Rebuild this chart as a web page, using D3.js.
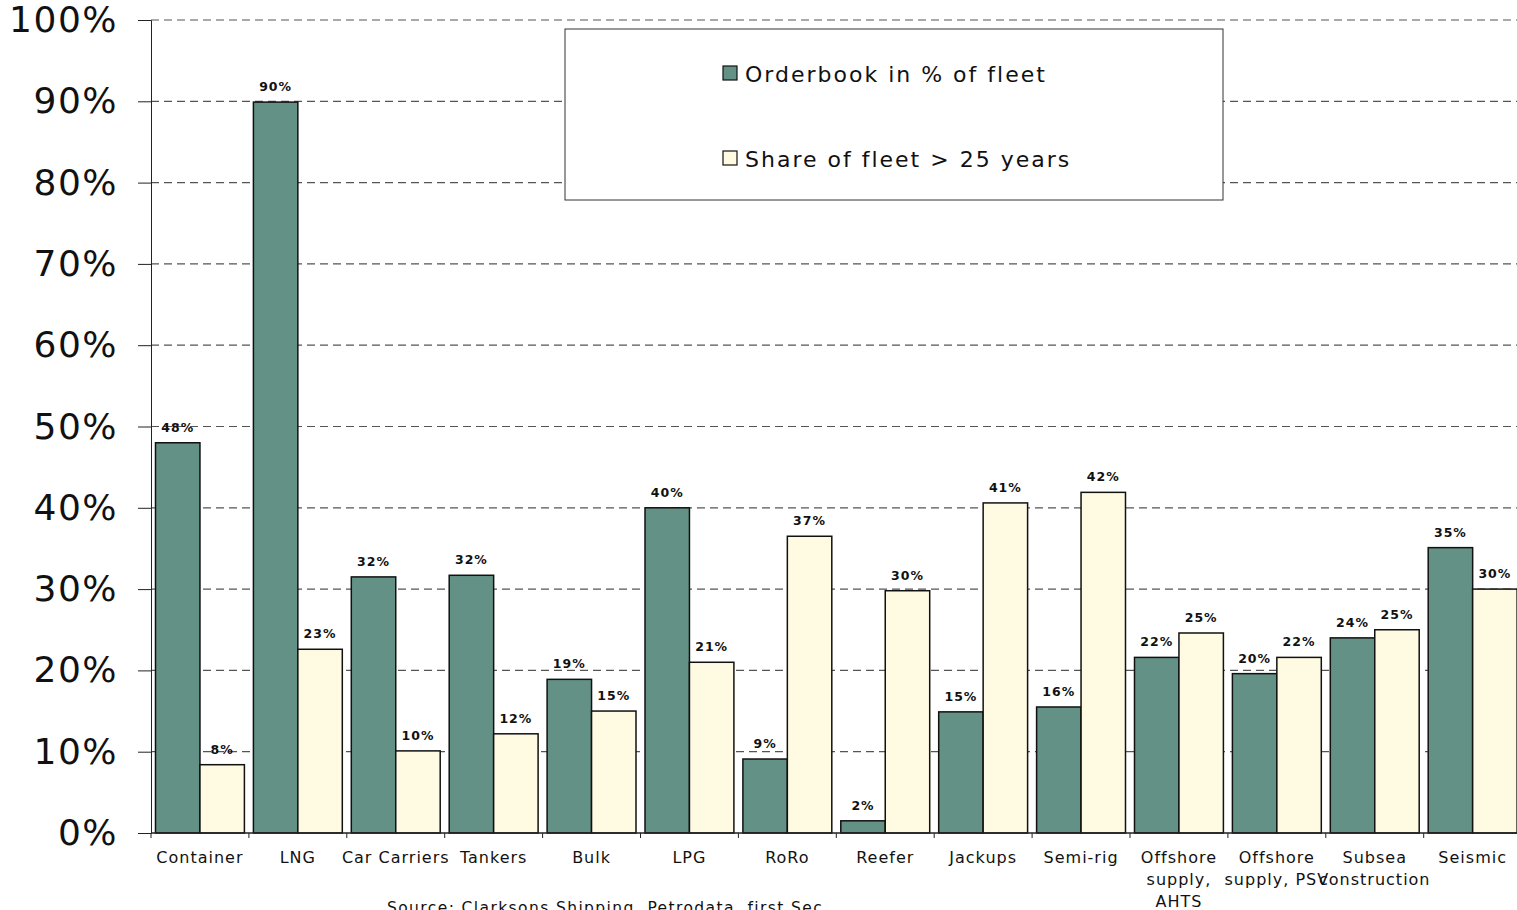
<!DOCTYPE html>
<html>
<head>
<meta charset="utf-8">
<script src="https://cdn.jsdelivr.net/npm/d3@7"></script>
<style>
  body { margin: 0; background: #fff; }
  svg { display: block; font-family: "DejaVu Sans", Verdana, sans-serif; }
</style>
</head>
<body>
<svg id="chart" width="1517" height="910"></svg>
<script>
// categories (multi-line labels split with |)
const categories = ['Container', 'LNG', 'Car Carriers', 'Tankers', 'Bulk', 'LPG', 'RoRo', 'Reefer',
  'Jackups', 'Semi-rig', 'Offshore|supply,|AHTS', 'Offshore|supply, PSV', 'Subsea|construction', 'Seismic']

// orderbook in % of fleet
const orderbook = [48.0, 89.9, 31.5, 31.7, 18.9, 40.0, 9.1, 1.5, 14.9, 15.5, 21.6, 19.6, 24.0, 35.1]
// share of fleet older than 25 years
const oldShare = [8.4, 22.6, 10.1, 12.2, 15.0, 21.0, 36.5, 29.8, 40.6, 41.9, 24.6, 21.6, 25.0, 30.0]

const seriesNames = ['Orderbook in % of fleet', 'Share of fleet > 25 years']
const seriesColors = ['#639185', '#FFFBE3']
const yTicks = [0, 10, 20, 30, 40, 50, 60, 70, 80, 90, 100]
const sourceNote = 'Source: Clarksons Shipping, Petrodata, first Sec'

const plotLeft = 151, plotTop = 20, plotBottom = 833
const step = 97.9

let svg = d3.select('#chart')

let x = d3.scaleBand()
    .domain(d3.range(categories.length))
    .range([plotLeft, plotLeft + step * categories.length])
    .paddingInner(0).paddingOuter(0)

let xInner = d3.scaleBand()
    .domain([0, 1])
    .range([4.5, step - 4.5])

let y = d3.scaleLinear().domain([0, 100]).range([plotBottom, plotTop])

// dashed gridlines
svg.append('g')
    .selectAll('line')
    .data(yTicks.filter(d => d > 0))
    .enter()
    .append('line')
    .attr('x1', plotLeft).attr('x2', 1517)
    .attr('y1', d => y(d)).attr('y2', d => y(d))
    .attr('stroke', '#555')
    .attr('stroke-width', 1.2)
    .attr('stroke-dasharray', '8,5')

// y axis
let yAxis = svg.append('g')
    .attr('transform', `translate(${plotLeft},0)`)
    .call(d3.axisLeft(y).tickValues(yTicks).tickSize(13).tickPadding(20).tickFormat(d => d + '%'))
yAxis.select('.domain').attr('stroke', '#222')
yAxis.selectAll('.tick line').attr('stroke', '#222')
yAxis.selectAll('text')
    .attr('font-size', 36)
    .attr('letter-spacing', 1.5)
    .attr('fill', '#111')
    .attr('font-family', '"DejaVu Sans", Verdana, sans-serif')

// bars
let rows = categories.map((c, i) => ({ i: i, vals: [orderbook[i], oldShare[i]] }))

let groups = svg.append('g')
    .selectAll('g')
    .data(rows)
    .enter()
    .append('g')
    .attr('transform', d => `translate(${x(d.i)},0)`)

groups.selectAll('rect')
    .data(d => d.vals.map((v, s) => ({ v: v, s: s })))
    .enter()
    .append('rect')
    .attr('x', d => xInner(d.s))
    .attr('width', xInner.bandwidth())
    .attr('y', d => y(d.v))
    .attr('height', d => y(0) - y(d.v))
    .attr('fill', d => seriesColors[d.s])
    .attr('stroke', '#111')
    .attr('stroke-width', 1.5)

groups.selectAll('text')
    .data(d => d.vals.map((v, s) => ({ v: v, s: s })))
    .enter()
    .append('text')
    .attr('x', d => xInner(d.s) + xInner.bandwidth() / 2)
    .attr('y', d => y(d.v) - 11)
    .attr('text-anchor', 'middle')
    .attr('font-size', 12.5)
    .attr('font-weight', 'bold')
    .attr('letter-spacing', 1)
    .attr('fill', '#111')
    .text(d => Math.round(d.v) + '%')

// x axis line and ticks
svg.append('line')
    .attr('x1', plotLeft).attr('x2', 1517)
    .attr('y1', plotBottom).attr('y2', plotBottom)
    .attr('stroke', '#222').attr('stroke-width', 1.5)

svg.append('g')
    .selectAll('line')
    .data(d3.range(categories.length))
    .enter()
    .append('line')
    .attr('x1', d => x(d)).attr('x2', d => x(d))
    .attr('y1', plotBottom).attr('y2', plotBottom + 5)
    .attr('stroke', '#222')

// category labels
let labels = svg.append('g')
    .selectAll('text')
    .data(categories)
    .enter()
    .append('text')
    .attr('x', (d, i) => x(i) + step / 2)
    .attr('y', 863)
    .attr('text-anchor', 'middle')
    .attr('font-size', 16)
    .attr('letter-spacing', 1)
    .attr('fill', '#111')

labels.selectAll('tspan')
    .data(d => d.split('|'))
    .enter()
    .append('tspan')
    .attr('x', function () { return d3.select(this.parentNode).attr('x') })
    .attr('dy', (d, i) => i === 0 ? 0 : 22)
    .text(d => d)

// source note (cut at the bottom edge, as in the original)
svg.append('text')
    .attr('x', 387)
    .attr('y', 913)
    .attr('font-size', 15.5)
    .attr('letter-spacing', 1.4)
    .attr('fill', '#111')
    .text(sourceNote)

// legend
let legend = svg.append('g')
legend.append('rect')
    .attr('x', 565).attr('y', 29)
    .attr('width', 658).attr('height', 171)
    .attr('fill', '#fff')
    .attr('stroke', '#333')
    .attr('stroke-width', 1)

seriesNames.forEach((name, i) => {
    legend.append('rect')
        .attr('x', 723).attr('y', 66 + i * 85)
        .attr('width', 14).attr('height', 14)
        .attr('fill', seriesColors[i])
        .attr('stroke', '#111')
        .attr('stroke-width', 1.2)
    legend.append('text')
        .attr('x', 745).attr('y', 82 + i * 85)
        .attr('font-size', 22)
        .attr('letter-spacing', 2)
        .attr('fill', '#111')
        .text(name)
})
</script>
</body>
</html>
